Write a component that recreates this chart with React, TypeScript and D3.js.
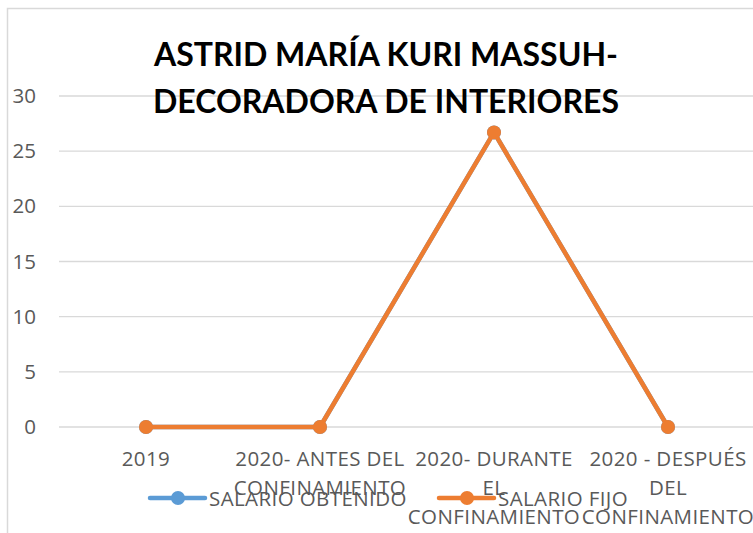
import { scaleBand, scaleLinear, line } from 'd3';

const categories = ['2019', '2020- ANTES DEL CONFINAMIENTO', '2020- DURANTE EL CONFINAMIENTO', '2020 - DESPUÉS DEL CONFINAMIENTO'];
const categoryLines = [
  ['2019'],
  ['2020- ANTES DEL', 'CONFINAMIENTO'],
  ['2020- DURANTE', 'EL', 'CONFINAMIENTO'],
  ['2020 - DESPUÉS', 'DEL', 'CONFINAMIENTO'],
];
const salarioObtenido = [0, 0, 26.7, 0];
const salarioFijo = [0, 0, 26.7, 0];
const yTicks = [0, 5, 10, 15, 20, 25, 30];
const titleLines = ['ASTRID MARÍA KURI MASSUH-', 'DECORADORA DE INTERIORES'];

const series = [
  { name: 'SALARIO OBTENIDO', values: salarioObtenido, color: '#5B9BD5' },
  { name: 'SALARIO FIJO', values: salarioFijo, color: '#ED7D31' },
];

export default function App() {
  const width = 753;
  const height = 533;
  const plot = { left: 59, right: 755, top: 96, bottom: 427 };
  const font = '"Open Sans", Lato, sans-serif';
  const titleFont = 'Lato, "Open Sans", sans-serif';
  const labelSize = 20.5;

  const x = scaleBand<string>().domain(categories).range([plot.left, plot.right]);
  const y = scaleLinear().domain([0, 30]).range([plot.bottom, plot.top]);
  const cx = (c: string) => (x(c) || 0) + x.bandwidth() / 2;

  const path = line<number>()
    .x((_, i) => cx(categories[i]))
    .y((v) => y(v));

  const legendX = [150, 439];

  return (
    <svg
      width={width}
      height={height}
      style={{ position: 'absolute', left: 0, top: 0, background: '#fff' }}
    >
      <rect x={7.5} y={8.5} width={width} height={height} fill="#fff" stroke="#d9d9d9" strokeWidth={1.5} />

      {yTicks.map((t) => (
        <g key={t}>
          <line x1={plot.left} x2={plot.right} y1={y(t)} y2={y(t)} stroke="#d9d9d9" strokeWidth={1.3} />
          <text x={36} y={y(t) + 7} textAnchor="end" fontFamily={font} fontSize={labelSize} fill="#595959">
            {t}
          </text>
        </g>
      ))}

      {titleLines.map((t, i) => (
        <text
          key={t}
          x={386}
          y={66 + i * 47}
          textAnchor="middle"
          fontFamily={titleFont}
          fontWeight={700}
          fontSize={32}
          fill="#000"
        >
          {t}
        </text>
      ))}

      {series.map((s) => (
        <g key={s.name}>
          <path d={path(s.values) || ''} fill="none" stroke={s.color} strokeWidth={4.5} strokeLinejoin="round" />
          {s.values.map((v, i) => (
            <circle key={i} cx={cx(categories[i])} cy={y(v)} r={7} fill={s.color} />
          ))}
        </g>
      ))}

      {categories.map((c, i) =>
        categoryLines[i].map((l, j) => (
          <text
            key={c + j}
            x={cx(c)}
            y={466 + j * 29}
            textAnchor="middle"
            fontFamily={font}
            fontSize={labelSize}
            letterSpacing={0.4}
            fill="#595959"
          >
            {l}
          </text>
        ))
      )}

      {series.map((s, i) => (
        <g key={s.name}>
          <line x1={legendX[i]} x2={legendX[i] + 55} y1={498} y2={498} stroke={s.color} strokeWidth={4.5} strokeLinecap="round" />
          <circle cx={legendX[i] + 28} cy={498} r={7} fill={s.color} />
          <text x={legendX[i] + 59} y={506} fontFamily={font} fontSize={labelSize} letterSpacing={0.4} fill="#595959">
            {s.name}
          </text>
        </g>
      ))}
    </svg>
  );
}
